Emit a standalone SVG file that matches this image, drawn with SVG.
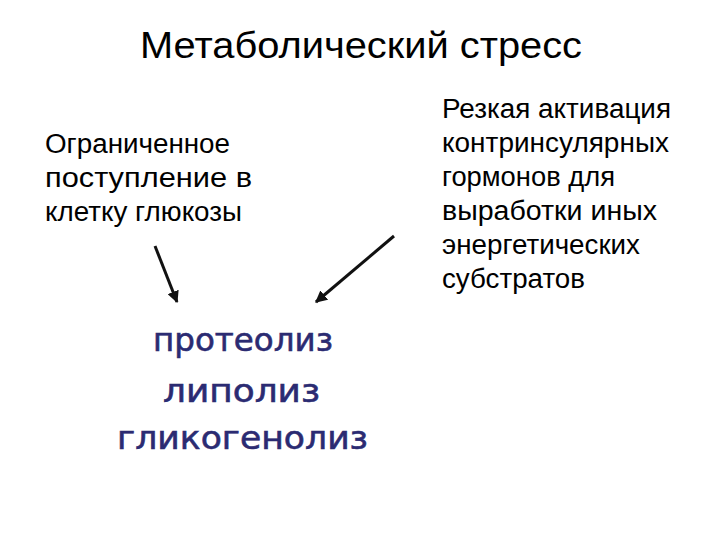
<svg xmlns="http://www.w3.org/2000/svg" width="720" height="540" viewBox="0 0 720 540">
<defs>
<style>
.t{font-family:"Liberation Sans",Arial,sans-serif;fill:#000}
.title{font-size:37px}
.body{font-size:27px}
.proc{font-family:"DejaVu Sans","Noto Sans",sans-serif;font-size:32px;fill:#2b2b72;stroke:#2b2b72;stroke-width:0.6}
.arrow{stroke:#111;stroke-width:3;fill:none;marker-end:url(#ah)}
</style>
<marker id="ah" viewBox="0 0 10 10" refX="9" refY="5" markerWidth="4" markerHeight="4" orient="auto" markerUnits="strokeWidth">
<path d="M0,0 L10,5 L0,10 z" fill="#111"/>
</marker>
</defs>
<rect width="720" height="540" fill="#fff"/>
<g id="title"><text class="t title" x="140" y="58" textLength="442" lengthAdjust="spacingAndGlyphs">Метаболический стресс</text></g>
<g id="left-cause">
<text class="t body" x="45" y="153" textLength="185" lengthAdjust="spacingAndGlyphs">Ограниченное</text>
<text class="t body" x="45" y="187" textLength="207" lengthAdjust="spacingAndGlyphs">поступление в</text>
<text class="t body" x="45" y="221" textLength="197" lengthAdjust="spacingAndGlyphs">клетку глюкозы</text>
</g>
<g id="right-cause">
<text class="t body" x="442" y="118" textLength="229" lengthAdjust="spacingAndGlyphs">Резкая активация</text>
<text class="t body" x="442" y="152" textLength="227" lengthAdjust="spacingAndGlyphs">контринсулярных</text>
<text class="t body" x="442" y="186" textLength="173" lengthAdjust="spacingAndGlyphs">гормонов для</text>
<text class="t body" x="442" y="220" textLength="215" lengthAdjust="spacingAndGlyphs">выработки иных</text>
<text class="t body" x="442" y="254" textLength="198" lengthAdjust="spacingAndGlyphs">энергетических</text>
<text class="t body" x="442" y="288" textLength="143" lengthAdjust="spacingAndGlyphs">субстратов</text>
</g>
<g id="processes">
<text class="proc" x="153" y="351" textLength="180" lengthAdjust="spacingAndGlyphs">протеолиз</text>
<text class="proc" x="163" y="402" textLength="157" lengthAdjust="spacingAndGlyphs">липолиз</text>
<text class="proc" x="117" y="449" textLength="251" lengthAdjust="spacingAndGlyphs">гликогенолиз</text>
</g>
<g id="connectors">
<line class="arrow" x1="155" y1="246" x2="177" y2="302"/>
<line class="arrow" x1="394" y1="236" x2="316" y2="302"/>
</g>
</svg>
